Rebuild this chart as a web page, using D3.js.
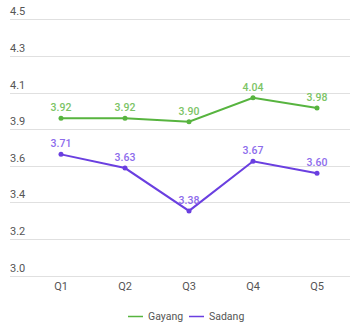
<!DOCTYPE html>
<html>
<head>
<meta charset="utf-8">
<script src="https://cdn.jsdelivr.net/npm/d3@7"></script>
<style>
  body { margin: 0; background: #fff; }
  svg { display: block; font-family: Roboto, "Noto Sans", sans-serif; }
</style>
</head>
<body>
<svg id="chart" width="356" height="327"></svg>
<script>
var quarters = ['Q1', 'Q2', 'Q3', 'Q4', 'Q5'];
var gayang = [3.92, 3.92, 3.90, 4.04, 3.98];
var sadang = [3.71, 3.63, 3.38, 3.67, 3.60];
var yTicks = [3.0, 3.214, 3.429, 3.643, 3.857, 4.071, 4.286, 4.5];
var seriesNames = ['Gayang', 'Sadang'];
var seriesColors = ['#57b43f', '#6a3fe0'];
var labelColors = ['#7cc466', '#8d6cec'];

var svg = d3.select('#chart');

var x = d3.scaleBand().domain(quarters).range([29, 349]);
var y = d3.scaleLinear().domain([3.0, 4.5]).range([276, 19]);

// grid + y labels
var yAxis = svg.append('g');
yTicks.forEach(function(t) {
	yAxis.append('line')
		.attr('x1', 10).attr('x2', 350)
		.attr('y1', Math.round(y(t)) + 0.5).attr('y2', Math.round(y(t)) + 0.5)
		.attr('stroke', '#e0e0e0').attr('stroke-width', 1);
	yAxis.append('text')
		.attr('x', 10).attr('y', y(t) - 4)
		.attr('font-size', 11).attr('fill', '#555')
		.text(t.toFixed(1));
});

// x labels
quarters.forEach(function(q) {
	svg.append('text')
		.attr('x', x(q) + x.bandwidth() / 2).attr('y', 290)
		.attr('text-anchor', 'middle')
		.attr('font-size', 11).attr('fill', '#555')
		.text(q);
});

var line = d3.line()
	.x(function(d, i) { return x(quarters[i]) + x.bandwidth() / 2; })
	.y(function(d) { return y(d); });

[gayang, sadang].forEach(function(values, s) {
	var g = svg.append('g');
	g.append('path')
		.attr('d', line(values))
		.attr('fill', 'none')
		.attr('stroke', seriesColors[s])
		.attr('stroke-width', 2);
	g.selectAll('circle').data(values).enter().append('circle')
		.attr('cx', function(d, i) { return x(quarters[i]) + x.bandwidth() / 2; })
		.attr('cy', function(d) { return y(d); })
		.attr('r', 2.5)
		.attr('fill', seriesColors[s]);
	g.selectAll('text').data(values).enter().append('text')
		.attr('x', function(d, i) { return x(quarters[i]) + x.bandwidth() / 2; })
		.attr('y', function(d) { return y(d) - 7; })
		.attr('text-anchor', 'middle')
		.attr('font-size', 10.5).attr('font-weight', 500)
		.attr('fill', labelColors[s])
		.text(function(d) { return d.toFixed(2); });
});

// legend
var legendX = [128, 189];
seriesNames.forEach(function(name, i) {
	svg.append('line')
		.attr('x1', legendX[i]).attr('x2', legendX[i] + 15)
		.attr('y1', 316.5).attr('y2', 316.5)
		.attr('stroke', seriesColors[i]).attr('stroke-width', 1.5);
	svg.append('text')
		.attr('x', legendX[i] + 20).attr('y', 320)
		.attr('font-size', 10.5).attr('fill', '#555')
		.text(name);
});
</script>
</body>
</html>
